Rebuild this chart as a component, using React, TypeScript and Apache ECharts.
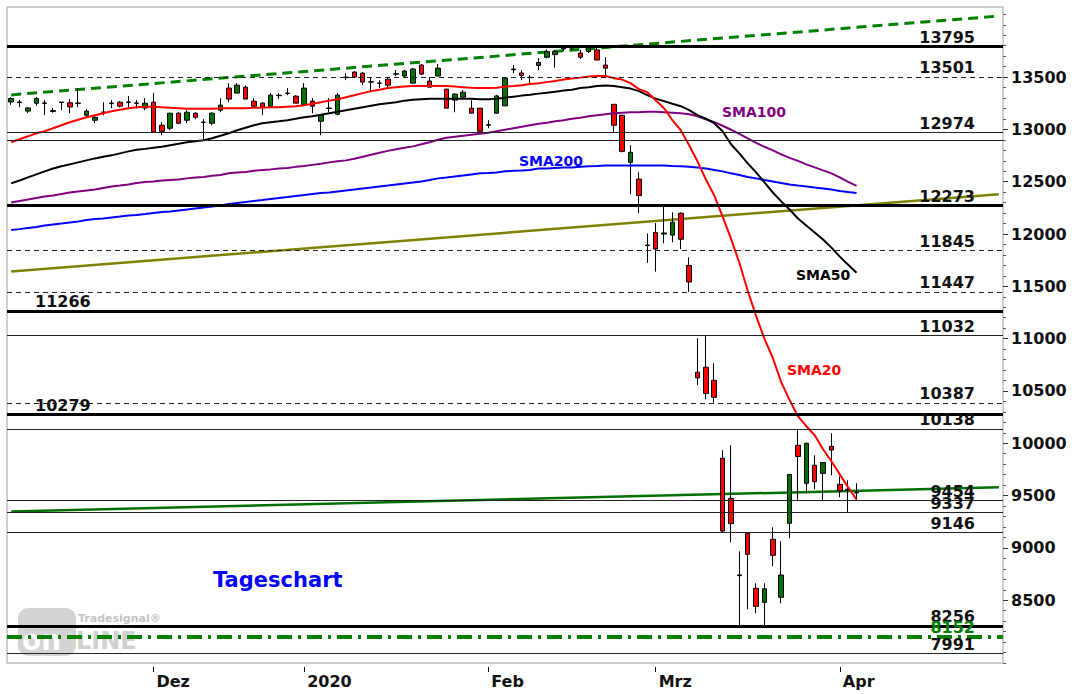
import React, { useEffect, useRef } from "react";
import * as echarts from "echarts";

// ---- trading days (categories) ----
const novDays = [7, 8, 11, 12, 13, 14, 15, 18, 19, 20, 21, 22, 25, 26, 27, 28, 29];
const decDays = [2, 3, 4, 5, 6, 9, 10, 11, 12, 13, 16, 17, 18, 19, 20, 23, 27, 30];
const janDays = [2, 3, 6, 7, 8, 9, 10, 13, 14, 15, 16, 17, 20, 21, 22, 23, 24, 27, 28, 29, 30, 31];
const febDays = [3, 4, 5, 6, 7, 10, 11, 12, 13, 14, 17, 18, 19, 20, 21, 24, 25, 26, 27, 28];
const marDays = [2, 3, 4, 5, 6, 9, 10, 11, 12, 13, 16, 17, 18, 19, 20, 23, 24, 25, 26, 27, 30, 31];
const aprDays = [1, 2, 3, 6, 7, 8, 9, 14, 15, 16, 17, 20, 21, 22, 23, 24, 27, 28, 29, 30];

const pad = (n: number) => String(n).padStart(2, "0");
const categories: string[] = [
  ...novDays.map((d) => `2019-11-${pad(d)}`),
  ...decDays.map((d) => `2019-12-${pad(d)}`),
  ...janDays.map((d) => `2020-01-${pad(d)}`),
  ...febDays.map((d) => `2020-02-${pad(d)}`),
  ...marDays.map((d) => `2020-03-${pad(d)}`),
  ...aprDays.map((d) => `2020-04-${pad(d)}`),
];

const monthLabels: Record<string, string> = {
  "2019-12-02": "Dez",
  "2020-01-02": "2020",
  "2020-02-03": "Feb",
  "2020-03-02": "Mrz",
  "2020-04-01": "Apr",
};

// ---- candles: [open, close, low, high] ----
const candles: number[][] = [
  [13262, 13295, 13235, 13308], [13262, 13256, 13212, 13282], [13175, 13205, 13155, 13212],
  [13250, 13295, 13225, 13310], [13253, 13249, 13136, 13280], [13180, 13172, 13160, 13205],
  [13258, 13261, 13184, 13262], [13255, 13215, 13155, 13290], [13252, 13249, 13212, 13395],
  [13136, 13174, 13118, 13193], [13088, 13116, 13060, 13136], [13166, 13163, 13136, 13260],
  [13252, 13249, 13203, 13280], [13260, 13222, 13210, 13270], [13262, 13259, 13212, 13320],
  [13250, 13253, 13200, 13280], [13205, 13250, 13184, 13299],
  // Dec
  [13260, 12973, 12973, 13350], [13040, 12982, 12944, 13068], [13011, 13155, 12992, 13158],
  [13155, 13059, 13050, 13164], [13088, 13164, 13060, 13184], [13155, 13116, 13098, 13164],
  [13070, 13067, 12896, 13098], [13059, 13155, 13040, 13164], [13184, 13232, 13164, 13299],
  [13395, 13290, 13260, 13442], [13347, 13423, 13347, 13442], [13404, 13290, 13290, 13423],
  [13270, 13222, 13212, 13299], [13251, 13212, 13136, 13260], [13222, 13327, 13212, 13347],
  [13327, 13322, 13290, 13347], [13347, 13344, 13327, 13395], [13318, 13251, 13251, 13327],
  // Jan
  [13232, 13395, 13232, 13442], [13270, 13222, 13155, 13299], [13078, 13136, 12944, 13136],
  [13200, 13205, 13164, 13299], [13145, 13327, 13136, 13347], [13495, 13500, 13471, 13538],
  [13548, 13500, 13490, 13558], [13538, 13452, 13423, 13548], [13455, 13452, 13356, 13500],
  [13443, 13441, 13395, 13471], [13480, 13423, 13395, 13490], [13528, 13531, 13510, 13567],
  [13510, 13558, 13500, 13567], [13442, 13577, 13442, 13586], [13615, 13529, 13519, 13625],
  [13462, 13404, 13404, 13500], [13510, 13586, 13510, 13625], [13385, 13203, 13203, 13385],
  [13280, 13337, 13164, 13347], [13308, 13356, 13308, 13375], [13203, 13155, 13155, 13279],
  [13203, 12982, 12973, 13203],
  // Feb
  [13040, 13045, 13011, 13088], [13155, 13320, 13150, 13330], [13225, 13490, 13222, 13500],
  [13570, 13577, 13538, 13615], [13540, 13515, 13471, 13567], [13498, 13495, 13442, 13519],
  [13612, 13640, 13567, 13682], [13690, 13745, 13680, 13765], [13715, 13745, 13590, 13760],
  [13770, 13778, 13750, 13795], [13778, 13785, 13760, 13795], [13730, 13690, 13672, 13760],
  [13745, 13780, 13730, 13797], [13760, 13663, 13663, 13790], [13615, 13585, 13519, 13692],
  [13240, 13040, 12973, 13241], [13135, 12790, 12781, 13140], [12685, 12781, 12380, 12848],
  [12525, 12367, 12200, 12590], [11895, 11890, 11725, 12005],
  // Mar
  [12015, 11857, 11640, 12105], [12000, 12010, 11912, 12275], [11990, 12113, 11921, 12208],
  [12199, 11950, 11855, 12208], [11700, 11542, 11447, 11778], [10680, 10625, 10555, 11004],
  [10727, 10475, 10421, 11032], [10602, 10439, 10387, 10765], [9857, 9161, 9146, 9933],
  [9474, 9232, 9053, 9981], [8735, 8742, 8256, 8967], [9140, 8939, 8413, 9146],
  [8614, 8441, 8375, 8662], [8480, 8610, 8256, 8662], [9082, 8929, 8824, 9197],
  [8528, 8741, 8470, 9063], [9235, 9701, 9092, 9705], [9981, 9874, 9445, 10138],
  [9618, 10000, 9522, 10005], [9790, 9633, 9560, 9885], [9713, 9816, 9454, 9820],
  [9971, 9936, 9694, 10096],
  // Apr
  [9608, 9544, 9484, 9684], [9552, 9560, 9337, 9646], [9530, 9525, 9455, 9618],
];

// ---- moving averages ----
const sma20 = [
  12877, 12906, 12934, 12963, 12982, 13011, 13040, 13069, 13093, 13116, 13136, 13155, 13174, 13188, 13203, 13212, 13217,
  13217, 13212, 13208, 13203, 13198, 13198, 13198, 13198, 13203, 13203, 13203, 13203, 13208, 13208, 13212, 13212, 13217, 13222,
  13232, 13246, 13260, 13275, 13289, 13308, 13327, 13347, 13366, 13380, 13395, 13404, 13409, 13414, 13414, 13414, 13414, 13414, 13409, 13404, 13399, 13395,
  13395, 13399, 13409, 13414, 13423, 13433, 13442, 13452, 13462, 13476, 13486, 13495, 13505, 13510, 13510, 13490, 13476, 13442, 13385, 13356,
  13279, 13203, 13088, 12992, 12848, 12695, 12522, 12369, 12167, 11956, 11726, 11458, 11218, 10998, 10815, 10585, 10413, 10259, 10163, 10077, 9943, 9828,
  9703, 9579, 9463,
];
const sma50 = [
  12484, 12512, 12541, 12570, 12599, 12627, 12647, 12666, 12685, 12704, 12723, 12738, 12752, 12771, 12790, 12805, 12814,
  12824, 12834, 12848, 12862, 12877, 12886, 12896, 12915, 12939, 12963, 12992, 13016, 13040, 13059, 13069, 13078, 13088, 13102,
  13116, 13126, 13140, 13155, 13169, 13184, 13198, 13212, 13227, 13241, 13251, 13260, 13275, 13284, 13289, 13294, 13294, 13294, 13294, 13294, 13294, 13289,
  13289, 13294, 13303, 13313, 13323, 13332, 13342, 13351, 13361, 13371, 13380, 13395, 13404, 13414, 13419, 13414, 13404, 13390, 13366, 13327,
  13294, 13270, 13246, 13222, 13184, 13136, 13102, 13059, 12982, 12858, 12771, 12675, 12589, 12493, 12397, 12312, 12234, 12148, 12081, 12014, 11947, 11870,
  11784, 11707, 11630,
];
const sma100 = [
  12301, 12316, 12330, 12345, 12359, 12369, 12383, 12397, 12407, 12417, 12426, 12441, 12455, 12464, 12474, 12488, 12498,
  12503, 12512, 12517, 12522, 12532, 12541, 12546, 12556, 12565, 12580, 12589, 12594, 12604, 12613, 12618, 12627, 12632, 12642,
  12651, 12661, 12671, 12685, 12695, 12704, 12719, 12738, 12757, 12776, 12795, 12810, 12824, 12838, 12858, 12877, 12901, 12920, 12930, 12939, 12949, 12958,
  12968, 12982, 12997, 13011, 13025, 13040, 13054, 13064, 13078, 13088, 13102, 13112, 13126, 13136, 13145, 13155, 13160, 13164, 13164, 13169,
  13169, 13164, 13160, 13155, 13145, 13126, 13097, 13069, 13035, 12997, 12958, 12915, 12872, 12834, 12800, 12762, 12728, 12699, 12666, 12637, 12608, 12580,
  12541, 12498, 12460,
];
const sma200 = [
  12038, 12047, 12057, 12067, 12081, 12091, 12100, 12110, 12119, 12134, 12143, 12148, 12158, 12167, 12177, 12182, 12191,
  12201, 12210, 12215, 12225, 12234, 12244, 12254, 12263, 12273, 12287, 12297, 12306, 12316, 12325, 12335, 12345, 12354, 12364,
  12373, 12383, 12393, 12397, 12407, 12417, 12426, 12436, 12445, 12455, 12464, 12474, 12484, 12493, 12503, 12517, 12532, 12541, 12551, 12560, 12570, 12580,
  12584, 12589, 12599, 12604, 12608, 12613, 12627, 12627, 12632, 12637, 12637, 12642, 12647, 12651, 12656, 12656, 12656, 12656, 12656, 12656,
  12656, 12656, 12651, 12647, 12642, 12637, 12627, 12613, 12599, 12580, 12565, 12546, 12532, 12517, 12503, 12488, 12474, 12464, 12455, 12445, 12436, 12426,
  12412, 12402, 12393,
];

// ---- trend lines: [startValue, endValue] at first / last category ----
const trendUpperGreen = [13330, 14084];
const trendOlive = [11643, 12380];
const trendLowerGreen = [9348, 9579];

// ---- horizontal levels ----
const levelsThick = [13795, 12273, 11266, 10279, 8256];
const levelsThin = [12974, 12896, 11032, 10138, 9454, 9337, 9146, 7991];
const levelsDashed = [13501, 11845, 11447, 10387];
const levelsDashDot = [8152];
const leftLabelLevels = [11266, 10279];
const unlabeledLevels = [12896];

// ---- axis ticks ----
const majorTicks = [8500, 9000, 9500, 10000, 10500, 11000, 11500, 12000, 12500, 13000, 13500];
const minorTicks = [
  7900, 8000, 8100, 8200, 8300, 8400, 8600, 8700, 8800, 8900, 9100, 9200, 9300, 9400, 9600, 9700, 9800, 9900,
  10100, 10200, 10300, 10400, 10600, 10700, 10800, 10900, 11100, 11200, 11300, 11400, 11600, 11700, 11800, 11900,
  12100, 12200, 12300, 12400, 12600, 12700, 12800, 12900, 13100, 13200, 13300, 13400, 13600, 13700, 13800, 13900,
  14000, 14100,
];

const FONT = "DejaVu Sans";

export default function App() {
  const ref = useRef<HTMLDivElement>(null);

  useEffect(() => {
    if (!ref.current) return;
    const chart = echarts.init(ref.current, undefined, { renderer: "svg" });
    const last = categories.length - 1;

    const lineStyles: Record<string, any> = {
      thick: { color: "#000000", width: 3, type: "solid" },
      thin: { color: "#222222", width: 1, type: "solid" },
      dashed: { color: "#222222", width: 1, type: [5, 4] },
      dashdot: { color: "#008000", width: 4, type: [15, 6, 3, 6] },
    };
    const mk = (v: number, kind: string) => {
      const left = leftLabelLevels.includes(v);
      const hidden = unlabeledLevels.includes(v);
      return {
        yAxis: v,
        name: String(v),
        lineStyle: lineStyles[kind],
        label: hidden
          ? { show: false }
          : {
              show: true,
              position: left ? "insideStartTop" : "insideEndTop",
              distance: [28, 1],
              formatter: "{b}",
              color: kind === "dashdot" ? "#008000" : "#111111",
              fontSize: 16,
              fontWeight: "bold",
              fontFamily: FONT,
            },
      };
    };
    const levelData = [
      ...levelsThin.map((v) => mk(v, "thin")),
      ...levelsDashed.map((v) => mk(v, "dashed")),
      ...levelsThick.map((v) => mk(v, "thick")),
      ...levelsDashDot.map((v) => mk(v, "dashdot")),
    ];

    const isMonth = (_i: number, v: string) => v in monthLabels;

    const option: any = {
      animation: false,
      backgroundColor: "#ffffff",
      grid: {
        left: 7,
        right: 69,
        top: 7,
        bottom: 31,
        show: true,
        borderColor: "#a0a0a0",
        borderWidth: 1,
        backgroundColor: "#ffffff",
        outerBoundsMode: "none",
      },
      xAxis: {
        type: "category",
        data: categories,
        boundaryGap: true,
        offset: 4,
        axisLine: { show: false },
        axisTick: {
          show: true,
          alignWithLabel: true,
          length: 5,
          interval: isMonth,
          lineStyle: { color: "#000000" },
        },
        axisLabel: {
          interval: isMonth,
          formatter: (v: string) => monthLabels[v] || "",
          align: "left",
          padding: [0, 0, 0, 3],
          margin: 6,
          color: "#111111",
          fontSize: 16,
          fontWeight: "bold",
          fontFamily: FONT,
        },
        splitLine: { show: false },
      },
      yAxis: [
        {
          type: "value",
          position: "right",
          min: 7900,
          max: 14170,
          axisLine: { show: false },
          splitLine: { show: false },
          axisTick: { show: true, length: 5, customValues: majorTicks, lineStyle: { color: "#333333" } },
          axisLabel: {
            customValues: majorTicks,
            formatter: (v: number) => String(v),
            margin: 8,
            color: "#111111",
            fontSize: 16,
            fontWeight: "bold",
            fontFamily: FONT,
          },
        },
        {
          type: "value",
          position: "right",
          min: 7900,
          max: 14170,
          axisLine: { show: false },
          splitLine: { show: false },
          axisTick: { show: true, length: 3, customValues: minorTicks, lineStyle: { color: "#555555" } },
          axisLabel: { show: false },
        },
      ],
      graphic: [
        {
          type: "group",
          z: 0,
          children: [
            { type: "rect", shape: { x: 18, y: 608, width: 58, height: 48, r: 10 }, style: { fill: "#d4d4d4" }, z: 0 },
            {
              type: "text",
              x: 78,
              y: 618,
              style: { text: "Tradesignal®", fill: "#c4c4c4", fontSize: 11, fontWeight: "bold", fontFamily: FONT, verticalAlign: "middle" },
              z: 0,
            },
            {
              type: "text",
              x: 22,
              y: 640,
              style: { text: "on", fill: "#ffffff", fontSize: 28, fontWeight: "bold", fontFamily: FONT, verticalAlign: "middle" },
              z: 0,
            },
            {
              type: "text",
              x: 76,
              y: 641,
              style: { text: "LINE", fill: "#d0d0d0", fontSize: 24, fontWeight: "bold", fontFamily: FONT, verticalAlign: "middle" },
              z: 0,
            },
          ],
        },
        {
          type: "text",
          x: 213,
          y: 580,
          z: 100,
          style: { text: "Tageschart", fill: "#0000ff", fontSize: 21, fontWeight: "bold", fontFamily: FONT, verticalAlign: "middle" },
        },
        {
          type: "text",
          x: 722,
          y: 112,
          z: 100,
          style: { text: "SMA100", fill: "#800080", fontSize: 14, fontWeight: "bold", fontFamily: FONT, verticalAlign: "middle" },
        },
        {
          type: "text",
          x: 519,
          y: 161,
          z: 100,
          style: { text: "SMA200", fill: "#0000ff", fontSize: 14, fontWeight: "bold", fontFamily: FONT, verticalAlign: "middle" },
        },
        {
          type: "text",
          x: 796,
          y: 275,
          z: 100,
          style: { text: "SMA50", fill: "#000000", fontSize: 14, fontWeight: "bold", fontFamily: FONT, verticalAlign: "middle" },
        },
        {
          type: "text",
          x: 787,
          y: 370,
          z: 100,
          style: { text: "SMA20", fill: "#ff0000", fontSize: 14, fontWeight: "bold", fontFamily: FONT, verticalAlign: "middle" },
        },
      ],
      series: [
        {
          name: "levels",
          type: "line",
          data: [],
          z: 1,
          markLine: {
            silent: true,
            symbol: ["none", "none"],
            animation: false,
            data: levelData,
          },
        },
        {
          name: "trendUpper",
          type: "line",
          data: [[0, trendUpperGreen[0]], [last, trendUpperGreen[1]]],
          symbol: "none",
          z: 2,
          lineStyle: { color: "#008000", width: 3, type: [10, 6] },
        },
        {
          name: "trendOlive",
          type: "line",
          data: [[0, trendOlive[0]], [last, trendOlive[1]]],
          symbol: "none",
          z: 2,
          lineStyle: { color: "#808000", width: 2.5 },
        },
        {
          name: "trendLower",
          type: "line",
          data: [[0, trendLowerGreen[0]], [last, trendLowerGreen[1]]],
          symbol: "none",
          z: 2,
          lineStyle: { color: "#007000", width: 2.5 },
        },
        {
          name: "DAX",
          type: "candlestick",
          data: candles,
          barWidth: 5,
          z: 3,
          itemStyle: {
            color: "#007000",
            color0: "#ff0000",
            borderColor: "#000000",
            borderColor0: "#000000",
            borderWidth: 1,
          },
        },
        { name: "SMA200", type: "line", data: sma200, symbol: "none", z: 4, lineStyle: { color: "#0000ff", width: 2 } },
        { name: "SMA100", type: "line", data: sma100, symbol: "none", z: 4, lineStyle: { color: "#800080", width: 2 } },
        { name: "SMA50", type: "line", data: sma50, symbol: "none", z: 4, lineStyle: { color: "#000000", width: 2 } },
        { name: "SMA20", type: "line", data: sma20, symbol: "none", z: 4, lineStyle: { color: "#ff0000", width: 2 } },
      ],
    };

    chart.setOption(option);
    return () => chart.dispose();
  }, []);

  return (
    <div
      ref={ref}
      style={{ position: "absolute", left: 0, top: 0, width: 1072, height: 694, background: "#ffffff" }}
    />
  );
}
